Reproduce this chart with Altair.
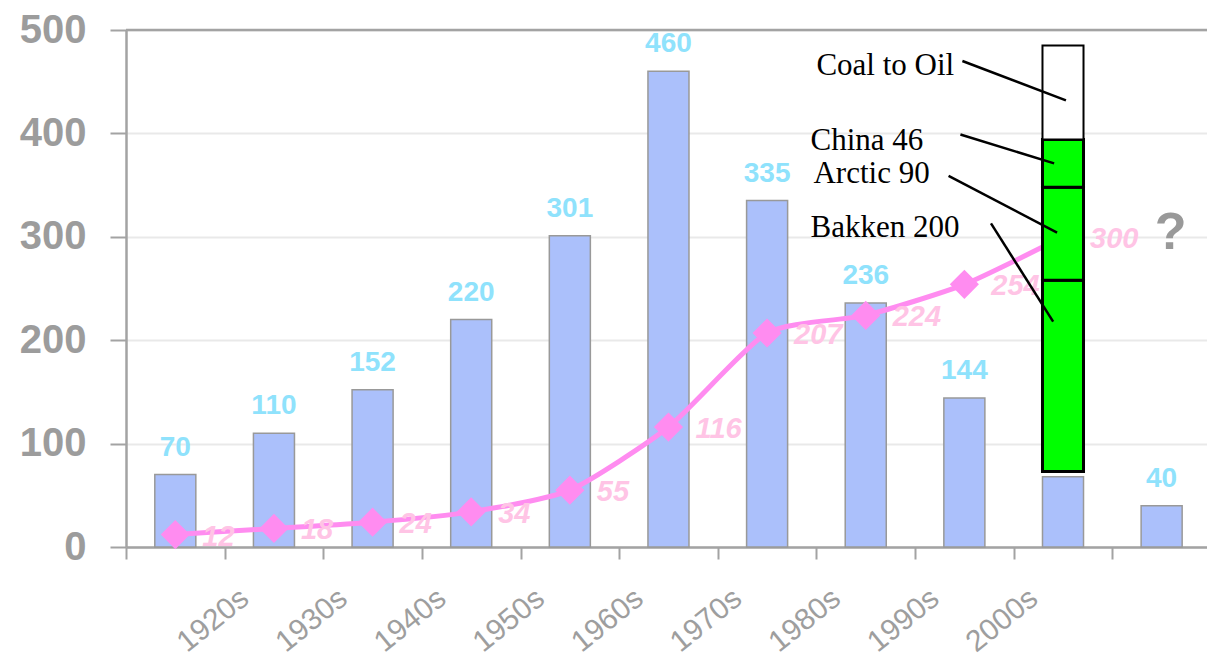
import altair as alt
import pandas as pd

# ---- data ----
decades = ["1920s", "1930s", "1940s", "1950s", "1960s", "1970s", "1980s", "1990s", "2000s"]
bar_values = [70, 110, 152, 220, 301, 460, 335, 236, 144, 68, 40]
line_values = [12, 18, 24, 34, 55, 116, 207, 224, 254, 300]

stack_index = 9          # the column that carries the stacked "future" bar
stack_base = 73
stack_names = ["Bakken", "Arctic", "China", "Coal to Oil"]
stack_sizes = [185, 90, 46, 91]
stack_fills = ["#00ff00", "#00ff00", "#00ff00", "#ffffff"]

annot_labels = ["Coal to Oil", "China 46", "Arctic 90", "Bakken 200"]
annot_text_x = [7.0, 6.94, 6.97, 6.94]
annot_text_y = [456, 384, 352, 300]
annot_line_x = [8.48, 8.46, 8.34, 8.77]
annot_line_y = [470, 399, 359, 313]
annot_line_x2 = [9.53, 9.41, 9.44, 9.40]
annot_line_y2 = [432, 371, 304, 218]

question = "?"
question_x = 10.59
question_y = 304

# ---- tables ----
HALF = 0.208
bars = pd.DataFrame({
    "x0": [i + 0.5 - HALF for i in range(len(bar_values))],
    "x1": [i + 0.5 + HALF for i in range(len(bar_values))],
    "xc": [i + 0.5 for i in range(len(bar_values))],
    "v": bar_values,
    "zero": 0,
})
line = pd.DataFrame({"x": [i + 0.5 for i in range(len(line_values))], "v": line_values})

tops, bots = [], []
acc = stack_base
for s in stack_sizes:
    bots.append(acc)
    acc += s
    tops.append(acc)
stack = pd.DataFrame({
    "name": stack_names,
    "y0": bots,
    "y1": tops,
    "fill": stack_fills,
    "sw": [3, 3, 3, 2],
    "x0": stack_index + 0.5 - HALF,
    "x1": stack_index + 0.5 + HALF,
})
annot = pd.DataFrame({
    "label": annot_labels,
    "tx": annot_text_x, "ty": annot_text_y,
    "lx": annot_line_x, "ly": annot_line_y,
    "lx2": annot_line_x2, "ly2": annot_line_y2,
})
qdf = pd.DataFrame({"t": [question], "x": [question_x], "y": [question_y]})

# ---- scales / axes ----
XMAX = 10.96
tick_labels = [""] + decades + [""]
label_expr = "[" + ",".join("'" + t + "'" for t in tick_labels) + "][datum.value]"

xscale = alt.Scale(domain=[0, XMAX], nice=False, zero=False)
yscale = alt.Scale(domain=[0, 500], nice=False)
GRAY = "#a3a3a3"

x_axis = alt.Axis(
    values=list(range(11)), labelExpr=label_expr, title=None, grid=False,
    tickSize=12, tickWidth=2, tickColor=GRAY, domainColor=GRAY, domainWidth=2.5,
    labelAngle=-39, labelAlign="center", labelBaseline="middle",
    labelOffset=-12, labelPadding=61, labelFont="Liberation Sans",
    labelFontSize=30, labelColor="#9e9e9e", labelFlush=False, labelOverlap=False,
)
y_axis = alt.Axis(
    values=[0, 100, 200, 300, 400, 500], title=None,
    tickSize=16, tickWidth=2, tickColor=GRAY, domainColor=GRAY, domainWidth=2.5,
    labelFont="Liberation Sans", labelFontSize=40, labelFontWeight="bold",
    labelColor="#9c9c9c", labelPadding=24, gridColor="#e9e9e9", gridWidth=2,
)

top_rule = alt.Chart(pd.DataFrame({"v": [500]})).mark_rule(
    color=GRAY, strokeWidth=2.5
).encode(y=alt.Y("v:Q", scale=yscale, axis=y_axis))

bar_layer = alt.Chart(bars).mark_bar(
    color="#abc0fb", stroke="#999999", strokeWidth=1.5
).encode(
    x=alt.X("x0:Q", scale=xscale, axis=x_axis),
    x2="x1:Q",
    y=alt.Y("v:Q", scale=yscale),
    y2="zero:Q",
)
bar_text = alt.Chart(bars).mark_text(
    font="Liberation Sans", fontSize=28, fontWeight="bold", color="#8fe2fc",
    baseline="alphabetic", dy=-19,
).encode(x=alt.X("xc:Q", scale=xscale), y=alt.Y("v:Q", scale=yscale), text="v:Q")

line_layer = alt.Chart(line).mark_line(
    color="#ff8cf0", strokeWidth=5, interpolate="cardinal", tension=0.4
).encode(x=alt.X("x:Q", scale=xscale), y=alt.Y("v:Q", scale=yscale))
pts = alt.Chart(line).mark_point(
    shape="diamond", filled=True, size=850, color="#ff8cf0", opacity=1
).encode(x=alt.X("x:Q", scale=xscale), y=alt.Y("v:Q", scale=yscale))
line_text = alt.Chart(line).mark_text(
    font="Liberation Sans", fontSize=29, fontWeight="bold", fontStyle="italic",
    color="#ffc4e5", align="left", baseline="middle", dx=27, dy=2,
).encode(x=alt.X("x:Q", scale=xscale), y=alt.Y("v:Q", scale=yscale), text="v:Q")

stack_layer = alt.Chart(stack).mark_bar(stroke="black").encode(
    x=alt.X("x0:Q", scale=xscale), x2="x1:Q",
    y=alt.Y("y0:Q", scale=yscale), y2="y1:Q",
    fill=alt.Fill("fill:N", scale=None),
    strokeWidth=alt.StrokeWidth("sw:Q", scale=None),
)

annot_lines = alt.Chart(annot).mark_rule(color="black", strokeWidth=2.5).encode(
    x=alt.X("lx:Q", scale=xscale), x2="lx2:Q",
    y=alt.Y("ly:Q", scale=yscale), y2="ly2:Q",
)
annot_text = alt.Chart(annot).mark_text(
    font="Liberation Serif", fontSize=31, color="black", align="left", baseline="alphabetic"
).encode(x=alt.X("tx:Q", scale=xscale), y=alt.Y("ty:Q", scale=yscale), text="label:N")

q_text = alt.Chart(qdf).mark_text(
    font="Liberation Sans", fontSize=52, fontWeight="bold", color="#999999",
    align="center", baseline="middle",
).encode(x=alt.X("x:Q", scale=xscale), y=alt.Y("y:Q", scale=yscale), text="t:N")

chart = alt.layer(
    top_rule, bar_layer, bar_text, line_layer, pts, line_text,
    stack_layer, annot_lines, annot_text, q_text,
).properties(
    width=1081, height=517,
    autosize=alt.AutoSizeParams(type="none"),
    padding={"left": 126, "top": 30, "right": 0, "bottom": 114},
    background="white",
).configure_view(stroke=None)

chart.save("out.html", embed_options={"renderer": "svg", "actions": False})
